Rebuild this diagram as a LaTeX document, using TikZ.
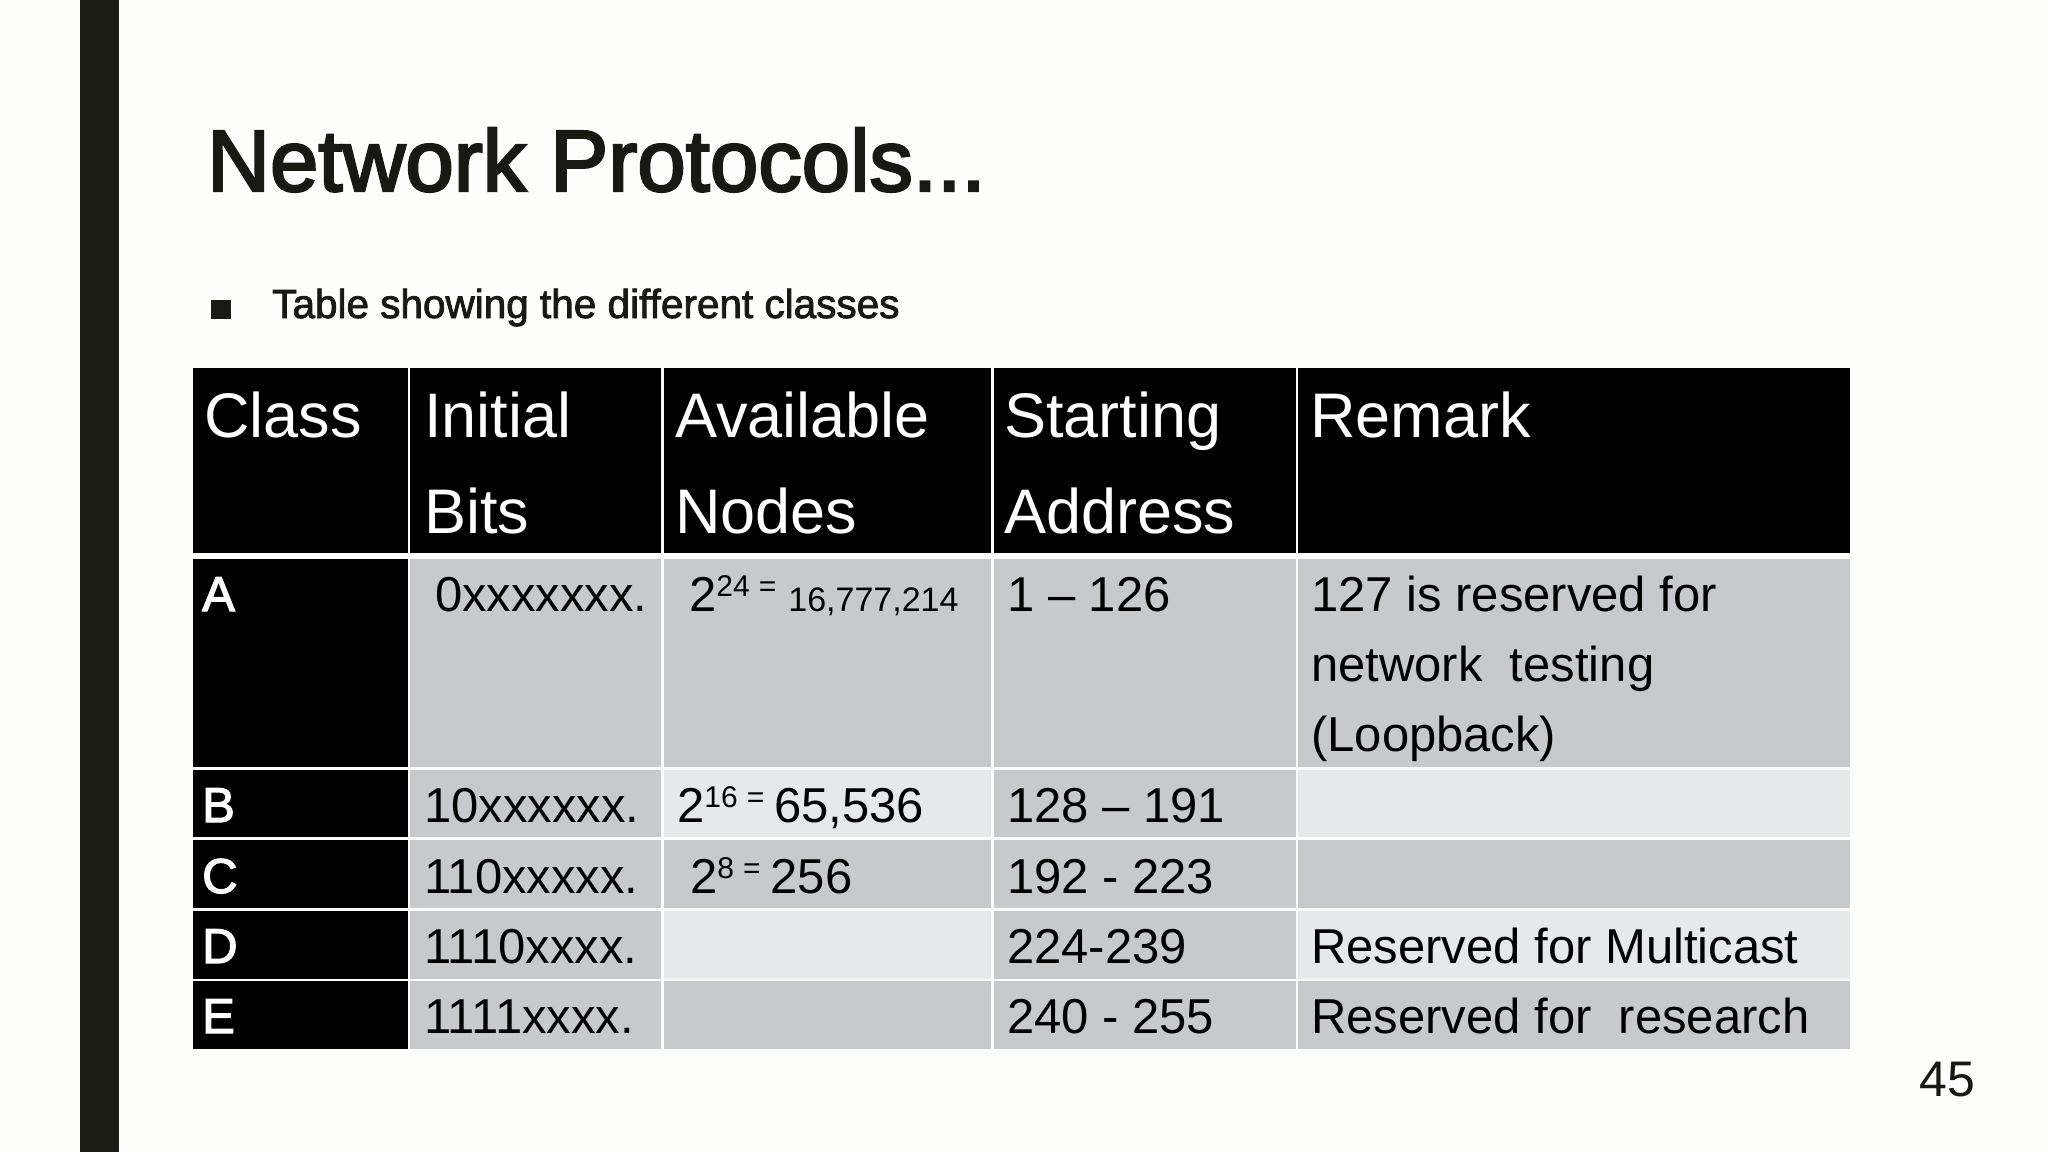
\documentclass[tikz,border=0pt]{standalone}
\usepackage{fontspec}
\setmainfont{Liberation Sans}
\newfontfamily\titlefont[FakeBold=2.8]{Liberation Sans}
\newfontfamily\leadfont[FakeBold=2]{Liberation Sans}
\newfontfamily\classfont[FakeBold=2.5]{Liberation Sans}
\definecolor{slidebg}{RGB}{253,253,251}
\definecolor{barink}{RGB}{28,29,18}
\definecolor{titleink}{RGB}{24,25,18}
\definecolor{cellgrey}{RGB}{200,201,204}
\definecolor{celllight}{RGB}{231,232,234}
\newcommand{\fsz}[1]{\fontsize{#1}{#1}\selectfont}
\newcommand{\supnum}[1]{\raisebox{15pt}{\fsz{30}#1\hspace{9pt}=}}
\newcommand{\headcell}[4]{\node[headtext] (#1) at (#2,#3) {#4};}
\newcommand{\bodycell}[4]{\node[bodytext] (#1) at (#2,#3) {#4};}
\newcommand{\classcell}[4]{\node[bodytext,text=white,font=\classfont\fsz{49}] (#1) at (#2,#3) {#4};}

\begin{document}
\begin{tikzpicture}[x=1pt,y=-1pt,
  headtext/.style={anchor=base west,inner sep=0pt,text=white,font=\fsz{63}},
  bodytext/.style={anchor=base west,inner sep=0pt,text=black,font=\fsz{49}}]
\useasboundingbox (0,0) rectangle (2048,1152);
\fill[slidebg] (0,0) rectangle (2048,1152);
\fill[barink] (80,0) rectangle (119,1152);
% title and bullet
\node[anchor=base west,inner sep=0pt,text=titleink,font=\titlefont\fsz{87}] (title) at (207,191) {Network Protocols...};
\fill[titleink] (211,300) rectangle (231,319);
\node[anchor=base west,inner sep=0pt,text=titleink,font=\leadfont\fsz{40.5}] (subtitle) at (272,318) {Table showing the different classes};
% table cells
\foreach \l/\r in {193/408,410/661,664/991,994/1296,1298/1850}
  \fill[black] (\l,368) rectangle (\r,553);
\foreach \t/\b/\ca/\cb in {559/767/cellgrey/cellgrey,770/837/cellgrey/celllight,840/908/cellgrey/cellgrey,911/979/cellgrey/celllight,981/1049/cellgrey/cellgrey}{
  \fill[black] (193,\t) rectangle (408,\b);
  \fill[\ca] (410,\t) rectangle (661,\b);
  \fill[\cb] (664,\t) rectangle (991,\b);
  \fill[\ca] (994,\t) rectangle (1296,\b);
  \fill[\cb] (1298,\t) rectangle (1850,\b);
}
% header
\headcell{hclass}{204}{437}{Class}
\headcell{hbitsA}{424}{437}{Initial}\headcell{hbitsB}{424}{533}{Bits}
\headcell{hnodesA}{675}{437}{Available}\headcell{hnodesB}{675}{533}{Nodes}
\headcell{hstartA}{1004}{437}{Starting}\headcell{hstartB}{1004}{533}{Address}
\headcell{hremark}{1310}{437}{Remark}
% class A
\classcell{ca}{202}{611}{A}
\bodycell{ba}{435}{611}{0xxxxxxx.}
\bodycell{na}{689}{611}{2\supnum{24}\hspace{12pt}{\fsz{34}16,777,214}}
\bodycell{sa}{1007}{611}{1 – 126}
\bodycell{raA}{1311}{611}{127 is reserved for}
\bodycell{raB}{1311}{681}{network\ \ testing}
\bodycell{raC}{1311}{751}{(Loopback)}
% class B
\classcell{cb}{202}{822}{B}
\bodycell{bb}{424}{822}{10xxxxxx.}
\bodycell{nb}{677}{822}{2\supnum{16}\hspace{10pt}65,536}
\bodycell{sb}{1007}{822}{128 – 191}
% class C
\classcell{cc}{202}{893}{C}
\bodycell{bc}{424}{893}{110xxxxx.}
\bodycell{nc}{690}{893}{2\supnum{8}\hspace{10pt}256}
\bodycell{sc}{1007}{893}{192 - 223}
% class D
\classcell{cd}{202}{963}{D}
\bodycell{bd}{424}{963}{1110xxxx.}
\bodycell{sd}{1007}{963}{224-239}
\bodycell{rd}{1311}{963}{Reserved for Multicast}
% class E
\classcell{ce}{202}{1033}{E}
\bodycell{be}{424}{1033}{1111xxxx.}
\bodycell{se}{1007}{1033}{240 - 255}
\bodycell{re}{1311}{1033}{Reserved for\ \ research}
% page number
\node[anchor=base west,inner sep=0pt,text=titleink,font=\fsz{50}] (pagenum) at (1919,1096) {45};
\end{tikzpicture}
\end{document}
